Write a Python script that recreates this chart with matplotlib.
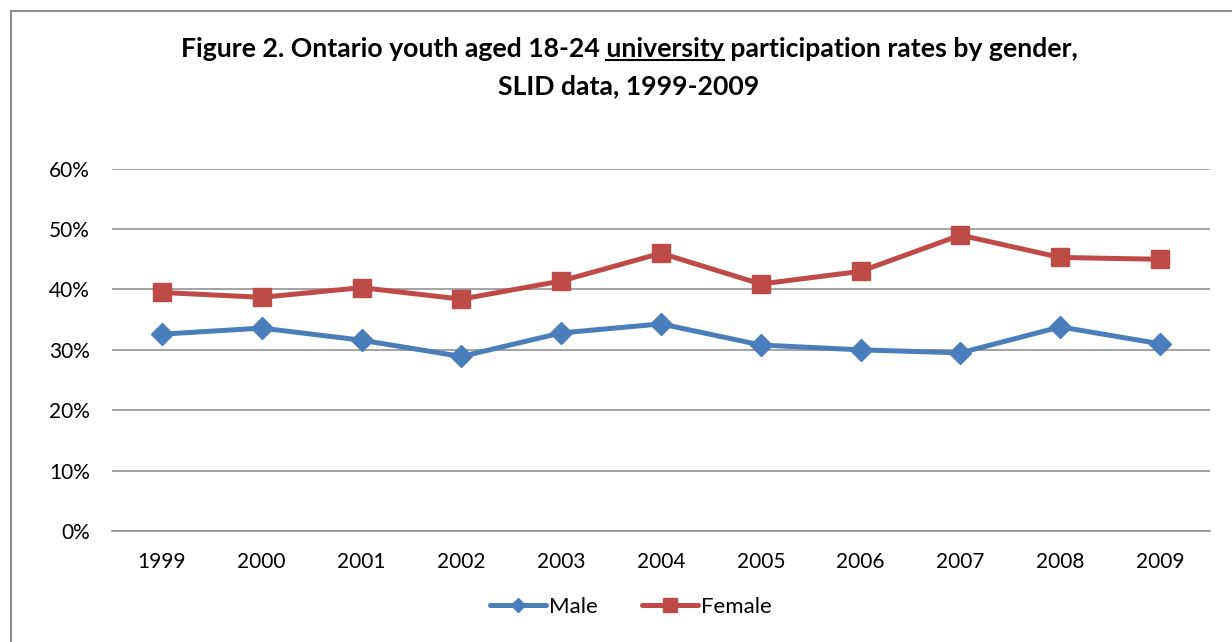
import numpy as np
import matplotlib
matplotlib.use("Agg")
import matplotlib.pyplot as plt
from matplotlib.patches import Rectangle
from matplotlib.lines import Line2D

years = ["1999", "2000", "2001", "2002", "2003", "2004",
         "2005", "2006", "2007", "2008", "2009"]
male = [32.6, 33.6, 31.6, 28.9, 32.8, 34.3, 30.8, 30.0, 29.5, 33.8, 31.0]
female = [39.5, 38.7, 40.3, 38.4, 41.4, 46.0, 40.9, 43.0, 49.0, 45.3, 45.0]

title1_a = "Figure 2. Ontario youth aged 18-24 "
title1_u = "university"
title1_b = " participation rates by gender,"
title2 = "SLID data, 1999-2009"

plt.rcParams['font.family'] = ['Lato', 'DejaVu Sans']

W, H = 1232, 642
fig = plt.figure(figsize=(W / 100, H / 100), dpi=100)

# chart frame (runs off the right and bottom edge)
fig.patches.append(Rectangle((10.5 / W, -0.05), 1.1, 1 - 10.5 / H + 0.05,
                             transform=fig.transFigure, fill=False,
                             edgecolor='#8c8c8c', linewidth=1.5))

ax = fig.add_axes([112 / W, 1 - 531 / H, (1210 - 112) / W, (531 - 168.7) / H])
x = np.arange(len(years)) + 0.5
ax.plot(x, male, color='#4A7EBB', lw=3.6, marker='D', ms=10.8,
        solid_capstyle='round', label='Male', zorder=3)
ax.plot(x, female, color='#BE4B48', lw=3.6, marker='s', ms=13.5,
        solid_capstyle='round', label='Female', zorder=3)

ax.set_xlim(0, len(years))
ax.set_ylim(0, 60)
ax.set_yticks(np.arange(0, 61, 10))
ax.set_yticklabels([f"{v}%" for v in range(0, 61, 10)])
ax.set_xticks(x)
ax.set_xticklabels(years)
ax.tick_params(length=0, labelsize=15)
ax.tick_params(axis='x', pad=15)
ax.tick_params(axis='y', pad=16)
ax.grid(axis='y', color='#8a8a8a', lw=1.1)
ax.set_axisbelow(True)
for s in ['top', 'right', 'left']:
    ax.spines[s].set_visible(False)
ax.spines['bottom'].set_color('#8a8a8a')
ax.spines['bottom'].set_linewidth(1.1)

# title, with "university" underlined
cx = 629 / W
tsize = 19.2
full = title1_a + title1_u + title1_b
t1 = fig.text(cx, 1 - 49 / H, full, ha='center', va='center',
              fontsize=tsize, fontweight='bold')
fig.text(cx, 1 - 86 / H, title2, ha='center', va='center',
         fontsize=tsize, fontweight='bold')
r = fig.canvas.get_renderer()
bb = t1.get_window_extent(r)

def text_w(s):
    t = fig.text(0, 0, s, fontsize=tsize, fontweight='bold')
    w = t.get_window_extent(r).width
    t.remove()
    return w

end = bb.x0 + text_w(title1_a + title1_u)
start = end - text_w(title1_u)
uy = bb.y0 + 1
fig.add_artist(Line2D([start / W, end / W], [uy / H, uy / H],
                      transform=fig.transFigure, color='black', lw=1.5))

leg = fig.legend(loc='center', bbox_to_anchor=(631 / W, 1 - 607 / H),
                 ncol=2, frameon=False, fontsize=16, handlelength=2.5,
                 columnspacing=2.0, handletextpad=0.15, markerscale=0.7)

fig.savefig("out.png", dpi=100)
